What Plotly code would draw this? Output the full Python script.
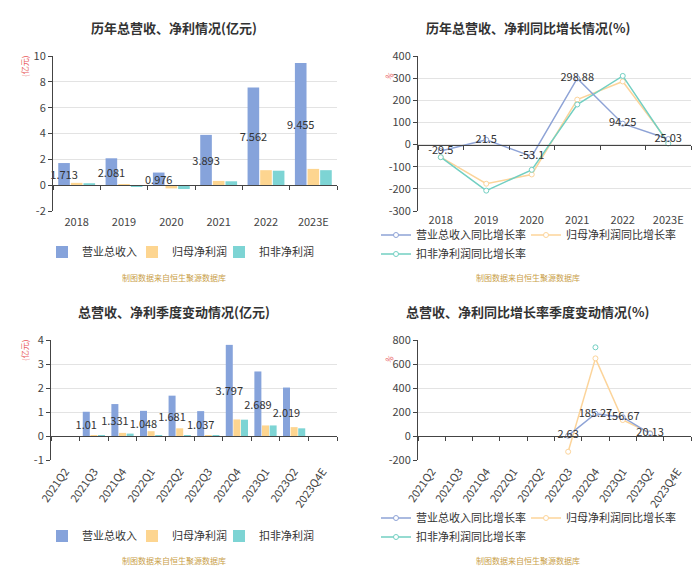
import plotly.graph_objects as go

# ---------------- data ----------------
years = ["2018", "2019", "2020", "2021", "2022", "2023E"]
rev_year = [1.713, 2.081, 0.976, 3.893, 7.562, 9.455]
np_year = [0.18, 0.03, -0.25, 0.33, 1.16, 1.26]
dnp_year = [0.15, -0.1, -0.3, 0.3, 1.12, 1.16]

rev_year_g = [-29.5, 21.5, -53.1, 298.88, 94.25, 25.03]
np_year_g = [-57, -177, -135, 203, 285, 12]
dnp_year_g = [-57, -208, -114, 181, 310, 5]

quarters = ["2021Q2", "2021Q3", "2021Q4", "2022Q1", "2022Q2", "2022Q3",
            "2022Q4", "2023Q1", "2023Q2", "2023Q4E"]
rev_q = [None, 1.01, 1.331, 1.048, 1.681, 1.037, 3.797, 2.689, 2.019, None]
np_q = [None, 0.03, 0.13, 0.2, 0.32, 0.02, 0.69, 0.44, 0.37, None]
dnp_q = [None, 0.02, 0.1, 0.01, 0.01, 0.01, 0.68, 0.44, 0.32, None]

rev_q_g = [None, None, None, None, None, 2.63, 185.27, 156.67, 20.13, None]
np_q_g = [None, None, None, None, None, -131, 647, 133, 25, None]
dnp_q_g = [None, None, None, None, None, None, 739, None, None, None]

yt_tl = [-2, 0, 2, 4, 6, 8, 10]
yt_tr = [-300, -200, -100, 0, 100, 200, 300, 400]
yt_bl = [-1, 0, 1, 2, 3, 4]
yt_br = [-200, 0, 200, 400, 600, 800]

names_bar = ["营业总收入", "归母净利润", "扣非净利润"]
names_line = ["营业总收入同比增长率", "归母净利润同比增长率", "扣非净利润同比增长率"]

# ---------------- style ----------------
W, H = 700, 576
FONT = "Noto Sans CJK SC, Noto Sans, sans-serif"
C_BAR = ["#86a3db", "#fdd590", "#7dd4d4"]
C_LINE = ["#8ea3d6", "#fcd49a", "#72cfc2"]
TXT = "#333333"
AX = "#444444"
GRID = "#e3e3e3"
SRC = "#c9a048"
RED = "#e8575a"


def px_x(v):
    return v / W


def px_y(v):
    return 1 - v / H


dom = {
    "tl": ([px_x(53), px_x(337)], [px_y(211), px_y(56)]),
    "tr": ([px_x(418), px_x(691)], [px_y(211), px_y(56)]),
    "bl": ([px_x(51), px_x(337)], [px_y(460), px_y(340)]),
    "br": ([px_x(418), px_x(691)], [px_y(460), px_y(340)]),
}
ranges = {"tl": [-2, 10], "tr": [-300, 400], "bl": [-1, 4], "br": [-200, 800]}
ticks = {"tl": yt_tl, "tr": yt_tr, "bl": yt_bl, "br": yt_br}
ncat = {"tl": len(years), "tr": len(years), "bl": len(quarters), "br": len(quarters)}
axid = {"tl": "", "tr": "2", "bl": "3", "br": "4"}
ovid = {"tl": "5", "tr": "6", "bl": "7", "br": "8"}
# legend groups (several plotly legends to mimic the reference's spacing / rows)
legid_bar = {"tl": ["legend", "legend9", "legend7"],
             "bl": ["legend3", "legend10", "legend8"]}
legid_line = {"tr": ["legend2", "legend2", "legend5"],
              "br": ["legend4", "legend4", "legend6"]}

fig = go.Figure()


def lbl(v):
    return "" if v is None else str(v)


# bar charts
for key, cats, series in [("tl", years, [rev_year, np_year, dnp_year]),
                          ("bl", quarters, [rev_q, np_q, dnp_q])]:
    for i, (nm, vals) in enumerate(zip(names_bar, series)):
        fig.add_trace(go.Bar(
            x=cats, y=vals, name=nm, marker=dict(color=C_BAR[i], line=dict(width=0)),
            xaxis="x" + axid[key], yaxis="y" + axid[key], legend=legid_bar[key][i],
            legendrank=i + 1,
            text=[lbl(v) for v in vals] if i == 0 else None,
            textposition="inside" if i == 0 else None,
            insidetextanchor="middle", constraintext="none", textangle=0,
            insidetextfont=dict(size=11, color=TXT, family=FONT),
            cliponaxis=False, hoverinfo="skip",
        ))

# line charts (revenue drawn last so its labels sit on top)
for key, cats, series in [("tr", years, [rev_year_g, np_year_g, dnp_year_g]),
                          ("br", quarters, [rev_q_g, np_q_g, dnp_q_g])]:
    for i in [1, 2, 0]:
        nm, vals = names_line[i], series[i]
        fig.add_trace(go.Scatter(
            x=cats, y=vals, name=nm,
            mode="lines+markers+text" if i == 0 else "lines+markers",
            line=dict(color=C_LINE[i], width=1.5),
            marker=dict(symbol="circle", size=5, color="white",
                        line=dict(color=C_LINE[i], width=1)),
            text=[lbl(v) for v in vals] if i == 0 else None,
            textposition="middle center",
            textfont=dict(size=11, color=TXT, family=FONT),
            connectgaps=False, cliponaxis=False,
            xaxis="x" + axid[key], yaxis="y" + axid[key],
            legend=legid_line[key][i],
            legendrank=i + 1, hoverinfo="skip",
        ))

layout = dict(
    width=W, height=H, margin=dict(l=0, r=0, t=0, b=0, autoexpand=False),
    paper_bgcolor="white", plot_bgcolor="white",
    font=dict(family=FONT, size=11, color=TXT),
    barmode="group", bargap=0.2, bargroupgap=0.08,
    showlegend=True,
)

for key in ["tl", "tr", "bl", "br"]:
    xd, yd = dom[key]
    r = ranges[key]
    n = ncat[key]
    rot = key in ("bl", "br")
    layout["xaxis" + axid[key]] = dict(
        domain=xd, anchor="y" + axid[key], type="category",
        range=[-0.5, n - 0.5], showline=False, ticks="", showgrid=False,
        zeroline=False, tickangle=-55 if rot else 0, automargin=False,
        ticklabelstandoff={"tl": 3, "tr": 1}.get(key, 2),
        tickfont=dict(size=11, color=AX), fixedrange=True,
    )
    layout["yaxis" + axid[key]] = dict(
        domain=yd, anchor="x" + axid[key], range=r,
        tickvals=ticks[key], ticktext=[str(t) for t in ticks[key]],
        showline=True, linecolor=AX, linewidth=1, ticks="outside", ticklen=4,
        tickcolor=AX, showgrid=True, gridcolor=GRID, gridwidth=1, zeroline=False,
        tickfont=dict(size=11, color=AX), fixedrange=True, automargin=False,
    )
    zero_pos = yd[0] + (0 - r[0]) / (r[1] - r[0]) * (yd[1] - yd[0])
    layout["xaxis" + ovid[key]] = dict(
        overlaying="x" + axid[key], anchor="free", position=zero_pos,
        type="linear", range=[-0.5, n - 0.5],
        tickvals=[k - 0.5 for k in range(n + 1)], showticklabels=False,
        ticks="outside", ticklen=4, tickcolor=AX, showline=True, linecolor=AX,
        linewidth=1, showgrid=False, zeroline=False, fixedrange=True,
        automargin=False,
    )
    fig.add_trace(go.Scatter(x=[None], y=[None], xaxis="x" + ovid[key],
                             yaxis="y" + axid[key], showlegend=False,
                             hoverinfo="skip", mode="markers"))

leg_common = dict(orientation="h", font=dict(size=11, color=TXT, family=FONT),
                  bgcolor="rgba(0,0,0,0)", itemwidth=30, tracegroupgap=0,
                  xanchor="left", yanchor="middle", itemclick=False,
                  itemdoubleclick=False, traceorder="normal")
for lid, lx in [("legend", 42), ("legend9", 132), ("legend7", 219)]:
    layout[lid] = dict(leg_common, x=px_x(lx), y=px_y(252))
for lid, lx in [("legend3", 42), ("legend10", 132), ("legend8", 219)]:
    layout[lid] = dict(leg_common, x=px_x(lx), y=px_y(536))
layout["legend2"] = dict(leg_common, x=px_x(376), y=px_y(235), entrywidth=105)
layout["legend5"] = dict(leg_common, x=px_x(376), y=px_y(254), entrywidth=105)
layout["legend4"] = dict(leg_common, x=px_x(376), y=px_y(518), entrywidth=105)
layout["legend6"] = dict(leg_common, x=px_x(376), y=px_y(537), entrywidth=105)

fig.update_layout(**layout)

titles = [("历年总营收、净利情况(亿元)", 174, 27),
          ("历年总营收、净利同比增长情况(%)", 528, 27),
          ("总营收、净利季度变动情况(亿元)", 174, 311),
          ("总营收、净利同比增长率季度变动情况(%)", 527, 311)]
for t, x, y in titles:
    fig.add_annotation(text="<b>" + t + "</b>", x=px_x(x), y=px_y(y),
                       xref="paper", yref="paper", showarrow=False,
                       xanchor="center", yanchor="middle",
                       font=dict(size=13, color=TXT, family=FONT))

for x, y in [(174, 277), (528, 277), (174, 560), (528, 560)]:
    fig.add_annotation(text="制图数据来自恒生聚源数据库", x=px_x(x), y=px_y(y),
                       xref="paper", yref="paper", showarrow=False,
                       xanchor="center", yanchor="middle",
                       font=dict(size=8, color=SRC, family=FONT))

for t, x, y in [("(亿元)", 25, 67), ("(亿元)", 24, 351), ("%", 389, 75), ("%", 389, 358)]:
    fig.add_annotation(text=t, x=px_x(x), y=px_y(y), xref="paper", yref="paper",
                       showarrow=False, textangle=-90 if t != "%" else -45,
                       xanchor="center", yanchor="middle",
                       font=dict(size=8, color=RED, family=FONT))

fig.write_html("out.html", config={"displayModeBar": False},
               post_script="document.body.style.margin='0px';")
